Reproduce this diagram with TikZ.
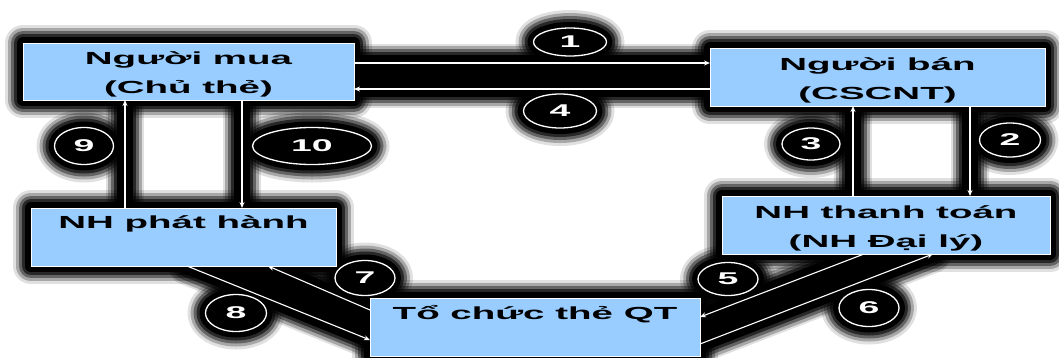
\documentclass[tikz,border=0pt]{standalone}
\usepackage{fontspec}
\setmainfont{Liberation Sans}[FakeStretch=2.2]
\usetikzlibrary{shapes.geometric,arrows.meta}
\pgfdeclarelayer{bg}
\pgfsetlayers{bg,main}
\definecolor{boxblue}{RGB}{153,204,255}
\tikzset{
  box/.style={rectangle, fill=boxblue, draw=white, line width=0.8pt, outer sep=0pt,
    inner sep=0pt, align=center, text=black,
    font=\fontsize{17.5}{29}\selectfont\bfseries},
  num/.style={ellipse, fill=black, draw=white, line width=1.3pt, inner sep=0pt,
    outer sep=0pt, text=white, font=\fontsize{17}{17}\selectfont\bfseries},
  arr/.style={draw=white, line width=1.1pt, -{Stealth[length=6pt,width=5pt]}},
}
\begin{document}
\begin{tikzpicture}[x=1pt,y=-1pt]
\useasboundingbox (0,0) rectangle (1059,357);
\clip (0,0) rectangle (1059,357);
% boxes
\node[box, minimum width=331pt, minimum height=57pt] (mua) at (188.5,71.5) {\rule{0pt}{19pt}Người mua\\(Chủ thẻ)};
\node[box, minimum width=335pt, minimum height=58pt] (ban) at (877.5,77) {\rule{0pt}{19pt}Người bán\\(CSCNT)};
\node[box, minimum width=305pt, minimum height=58pt] (phat) at (183.5,237) {NH phát hành\\\mbox{}};
\node[box, minimum width=328pt, minimum height=58pt] (tt) at (886,225) {\rule{0pt}{19pt}NH thanh toán\\(NH Đại lý)};
\node[box, minimum width=330pt, minimum height=58pt] (qt) at (535,327) {Tổ chức thẻ QT\\\mbox{}};
% number ellipses
\node[num, minimum width=73pt, minimum height=28pt] (e1) at (570,42) {1};
\node[num, minimum width=73pt, minimum height=34pt] (e4) at (560,111) {4};
\node[num, minimum width=59pt, minimum height=37pt] (e9) at (84,146) {9};
\node[num, minimum width=119pt, minimum height=37pt] (e10) at (312,146) {10};
\node[num, minimum width=58pt, minimum height=32pt] (e3) at (811,144) {3};
\node[num, minimum width=61pt, minimum height=34pt] (e2) at (1010,140) {2};
\node[num, minimum width=60pt, minimum height=35pt] (e7) at (365,278) {7};
\node[num, minimum width=61pt, minimum height=37pt] (e8) at (236,313) {8};
\node[num, minimum width=60pt, minimum height=33pt] (e5) at (728,279) {5};
\node[num, minimum width=60pt, minimum height=37pt] (e6) at (869,308) {6};
% shadows
\begin{pgfonlayer}{bg}
\fill[white] (0,0) rectangle (1059,357);
\foreach \w/\v/\o in {36/38/0.12, 30/34/0.25, 24/28/0.4, 18/22/0.6, 12/16/1}{
  \begin{scope}[draw=black, fill=black, opacity=\o, line join=round, line cap=round]
    \begin{scope}[line width=\w pt]
      \foreach \n in {mua,ban,phat,tt,qt}{
        \filldraw (\n.north west) rectangle (\n.south east);
      }
      \filldraw (e1) ellipse [x radius=36.5, y radius=14];
      \filldraw (e4) ellipse [x radius=36.5, y radius=17];
      \filldraw (e9) ellipse [x radius=29.5, y radius=18.5];
      \filldraw (e10) ellipse [x radius=59.5, y radius=18.5];
      \filldraw (e3) ellipse [x radius=29, y radius=16];
      \filldraw (e2) ellipse [x radius=30.5, y radius=17];
      \filldraw (e7) ellipse [x radius=30, y radius=17.5];
      \filldraw (e8) ellipse [x radius=30.5, y radius=18.5];
      \filldraw (e5) ellipse [x radius=30, y radius=16.5];
      \filldraw (e6) ellipse [x radius=30, y radius=18.5];
    \end{scope}
    \begin{scope}[line width=\v pt]
      \filldraw ([yshift=8.5pt]mua.east) -- ([yshift=14pt]ban.west) -- ([yshift=-12pt]ban.west) -- ([yshift=-17.5pt]mua.east) -- cycle;
      \draw ([xshift=-58.5pt]phat.north) -- ([xshift=-63.5pt]mua.south);
      \draw ([xshift=53.5pt]mua.south) -- ([xshift=58.5pt]phat.north);
      \draw ([xshift=-33pt]tt.north) -- ([xshift=-24.5pt]ban.south);
      \draw ([xshift=92.5pt]ban.south) -- ([xshift=84pt]tt.north);
      \filldraw ([xshift=3.5pt]phat.south) -- ([xshift=84.5pt]phat.south) -- ([yshift=17pt]qt.west) -- ([yshift=-13pt]qt.west) -- cycle;
      \filldraw ([xshift=-22pt]tt.south) -- ([xshift=47pt]tt.south) -- ([yshift=-17pt]qt.east) -- ([yshift=10pt]qt.east) -- cycle;
    \end{scope}
  \end{scope}
}
\end{pgfonlayer}
% connectors
\draw[arr] ([yshift=8.5pt]mua.east) -- ([yshift=14pt]ban.west);
\draw[arr] ([yshift=-12pt]ban.west) -- ([yshift=-17.5pt]mua.east);
\draw[arr] ([xshift=-58.5pt]phat.north) -- ([xshift=-63.5pt]mua.south);
\draw[arr] ([xshift=53.5pt]mua.south) -- ([xshift=58.5pt]phat.north);
\draw[arr] ([xshift=-33pt]tt.north) -- ([xshift=-24.5pt]ban.south);
\draw[arr] ([xshift=92.5pt]ban.south) -- ([xshift=84pt]tt.north);
\draw[arr] ([yshift=17pt]qt.west) -- ([xshift=84.5pt]phat.south);
\draw[arr] ([xshift=3.5pt]phat.south) -- ([yshift=-13pt]qt.west);
\draw[arr] ([xshift=-22pt]tt.south) -- ([yshift=10pt]qt.east);
\draw[arr] ([yshift=-17pt]qt.east) -- ([xshift=47pt]tt.south);
\end{tikzpicture}
\end{document}
